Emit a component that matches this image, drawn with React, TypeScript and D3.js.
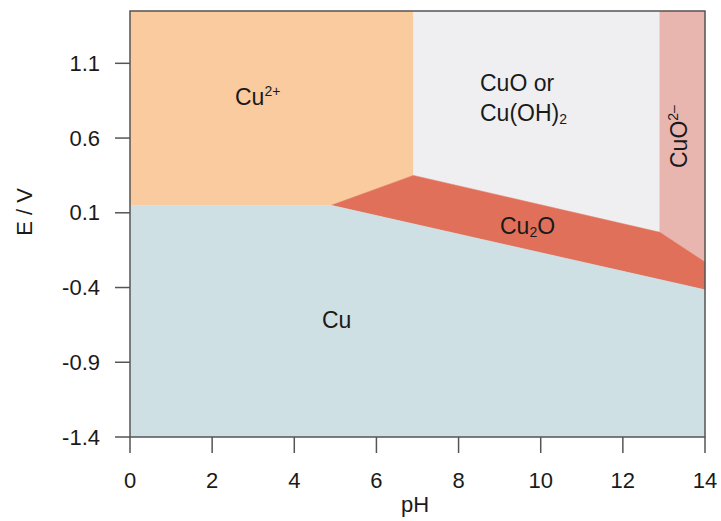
import React from "react";
import * as d3 from "d3";

// Axis ticks
const xTicks = [0, 2, 4, 6, 8, 10, 12, 14];
const yTicks = [1.1, 0.6, 0.1, -0.4, -0.9, -1.4];
const yTickLabels = ["1.1", "0.6", "0.1", "-0.4", "-0.9", "-1.4"];

// Region boundaries (pH, E)
const E_TOP = 1.45;
const E_BOT = -1.4;
const cu2Region: [number, number][] = [[0, E_TOP], [6.9, E_TOP], [6.9, 0.35], [4.9, 0.15], [0, 0.15]];
const cuoRegion: [number, number][] = [[6.9, E_TOP], [12.9, E_TOP], [12.9, -0.03], [6.9, 0.35]];
const cuo2Region: [number, number][] = [[12.9, E_TOP], [14, E_TOP], [14, -0.23], [12.9, -0.03]];
const cu2oRegion: [number, number][] = [[4.9, 0.15], [6.9, 0.35], [12.9, -0.03], [14, -0.23], [14, -0.415]];
const cuRegion: [number, number][] = [[0, E_BOT], [14, E_BOT], [14, -0.415], [4.9, 0.15], [0, 0.15]];

const regionNames = ["Cu2+", "CuO", "CuO2-", "Cu2O", "Cu"];
const regionColors = ["#f9cb9e", "#efeff1", "#e9b5af", "#e1705b", "#cfe0e4"];

export default function App() {
  const W = 721, H = 521;
  const x = d3.scaleLinear().domain([0, 14]).range([130, 705]);
  const y = d3.scaleLinear().domain([E_BOT, E_TOP]).range([437, 11]);
  const line = d3.line<[number, number]>().x(d => x(d[0])).y(d => y(d[1]));
  const regions = [cu2Region, cuoRegion, cuo2Region, cu2oRegion, cuRegion];
  const font = "'Liberation Sans', Arial, sans-serif";
  const tc = "#1a1a1a";
  const axisC = "#555";
  return (
    <svg width={W} height={H} style={{ position: "absolute", left: 0, top: 0, background: "#fff" }} fontFamily={font}>
      {regions.map((r, i) => (
        <path key={regionNames[i]} d={line(r) + "Z"} fill={regionColors[i]} stroke={regionColors[i]} strokeWidth={0.5} />
      ))}
      <rect x={x(0)} y={y(E_TOP)} width={x(14) - x(0)} height={y(E_BOT) - y(E_TOP)} fill="none" stroke={axisC} strokeWidth={1.5} />
      {yTicks.map((t, i) => (
        <g key={"y" + t}>
          <line x1={x(0) - 15} x2={x(0)} y1={y(t)} y2={y(t)} stroke={axisC} strokeWidth={1.5} />
          <text x={100} y={y(t)} dy="0.35em" textAnchor="end" fontSize={22} fill={tc}>{yTickLabels[i]}</text>
        </g>
      ))}
      {xTicks.map(t => (
        <g key={"x" + t}>
          <line x1={x(t)} x2={x(t)} y1={y(E_BOT)} y2={y(E_BOT) + 16} stroke={axisC} strokeWidth={1.5} />
          <text x={x(t)} y={488} textAnchor="middle" fontSize={22} fill={tc}>{t}</text>
        </g>
      ))}
      <text x={415} y={512} textAnchor="middle" fontSize={22} fill={tc}>pH</text>
      <text transform="translate(32,212) rotate(-90)" textAnchor="middle" fontSize={22} fill={tc}>E / V</text>

      <text x={235} y={105} fontSize={23} fill={tc}>Cu<tspan fontSize={14} dy={-9}>2+</tspan></text>
      <text x={480} y={91} fontSize={23} fill={tc}>CuO or</text>
      <text x={480} y={121} fontSize={23} fill={tc}>Cu(OH)<tspan fontSize={14} dy={3}>2</tspan></text>
      <text x={500} y={234} fontSize={23} fill={tc}>Cu<tspan fontSize={14} dy={3}>2</tspan><tspan dy={-3}>O</tspan></text>
      <text x={322} y={328} fontSize={23} fill={tc}>Cu</text>
      <text transform="translate(687,168) rotate(-90)" fontSize={23} fill={tc}>CuO<tspan fontSize={14} dy={-9}>2–</tspan></text>
    </svg>
  );
}
